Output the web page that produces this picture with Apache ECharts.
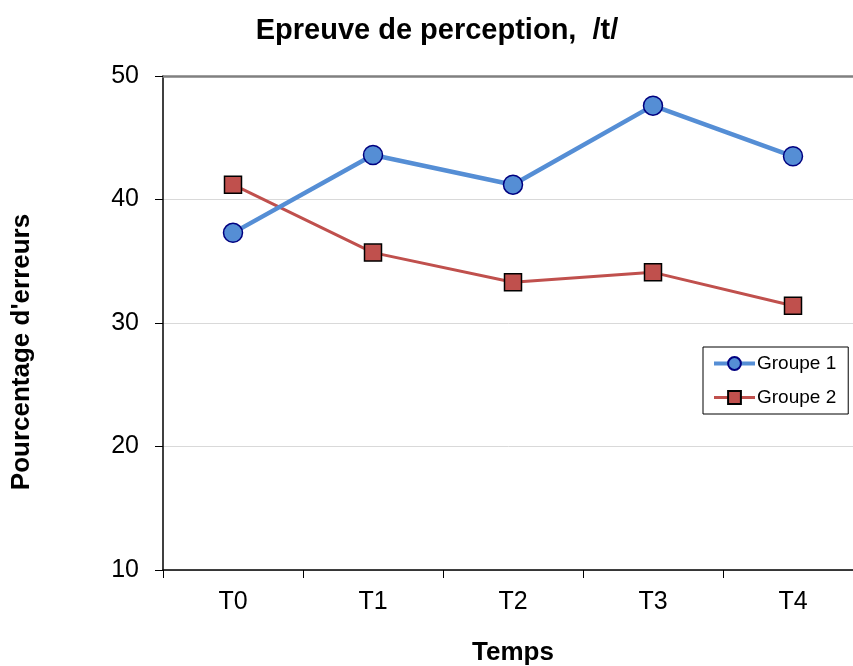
<!DOCTYPE html>
<html>
<head>
<meta charset="utf-8">
<script src="https://cdn.jsdelivr.net/npm/echarts@6/dist/echarts.min.js"></script>
<style>
  html, body { margin: 0; padding: 0; background: #fff; }
  #chart { width: 853px; height: 666px; }
</style>
</head>
<body>
<div id="chart"></div>
<script>
// Test sessions and error percentages per group
const categories = ['T0', 'T1', 'T2', 'T3', 'T4'];
const groupe1 = [37.3, 43.6, 41.2, 47.6, 43.5];
const groupe2 = [41.2, 35.7, 33.3, 34.1, 31.4];
const yTicks = { min: 10, max: 50, interval: 10 };

const font = 'Arial, "Liberation Sans", sans-serif';
const chart = echarts.init(document.getElementById('chart'));

chart.setOption({
  backgroundColor: '#ffffff',
  animation: false,
  title: {
    text: 'Epreuve de perception,  /t/',
    left: 432,
    top: 11,
    textAlign: 'center',
    textStyle: { fontFamily: font, fontSize: 29, fontWeight: 'bold', color: '#000' }
  },
  legend: {
    orient: 'vertical',
    left: 703,
    top: 347,
    padding: [7, 12, 7, 9],
    itemGap: 15,
    itemWidth: 41,
    itemHeight: 16,
    borderColor: '#000',
    borderWidth: 1,
    backgroundColor: '#fff',
    textStyle: { fontFamily: font, fontSize: 19, color: '#000', padding: [0, 0, 0, -3] },
    data: [
      { name: 'Groupe 1', lineStyle: { width: 4 } },
      { name: 'Groupe 2', lineStyle: { width: 3 } }
    ]
  },
  grid: { left: 163, top: 76, width: 700, height: 494, outerBoundsMode: 'none', containLabel: false },
  xAxis: [{
    type: 'category',
    data: categories,
    boundaryGap: true,
    name: 'Temps',
    nameLocation: 'middle',
    nameGap: 70,
    nameTextStyle: { fontFamily: font, fontSize: 26, fontWeight: 'bold', color: '#000' },
    axisLine: { lineStyle: { color: '#000', width: 1.5 } },
    axisTick: { show: true, inside: false, length: 8, lineStyle: { color: '#000' } },
    axisLabel: { fontFamily: font, fontSize: 25, color: '#000', margin: 20 },
    splitLine: { show: false }
  }, {
    type: 'category',
    data: categories,
    position: 'top',
    axisLine: { show: true, lineStyle: { color: '#808080', width: 2.5 } },
    axisTick: { show: false },
    axisLabel: { show: false },
    splitLine: { show: false }
  }],
  yAxis: {
    type: 'value',
    min: yTicks.min,
    max: yTicks.max,
    interval: yTicks.interval,
    name: "Pourcentage d'erreurs",
    nameLocation: 'middle',
    nameGap: 128,
    nameTextStyle: { fontFamily: font, fontSize: 26, fontWeight: 'bold', color: '#000', padding: [0, 58, 0, 0] },
    axisLine: { show: true, lineStyle: { color: '#000', width: 1.5 } },
    axisTick: { show: true, inside: false, length: 8, lineStyle: { color: '#000' } },
    axisLabel: { fontFamily: font, fontSize: 25, color: '#000', margin: 24 },
    splitLine: { show: true, lineStyle: { color: '#d9d9d9', width: 1 } }
  },
  series: [{
    name: 'Groupe 1',
    type: 'line',
    data: groupe1,
    symbol: 'circle',
    symbolSize: 19,
    lineStyle: { color: '#558ed5', width: 4.5 },
    itemStyle: { color: '#558ed5', borderColor: '#000080', borderWidth: 1.5 },
    z: 3
  }, {
    name: 'Groupe 2',
    type: 'line',
    data: groupe2,
    symbol: 'rect',
    symbolSize: 17,
    lineStyle: { color: '#c0504d', width: 3 },
    itemStyle: { color: '#c0504d', borderColor: '#000', borderWidth: 1.5 },
    z: 2
  }]
});
</script>
</body>
</html>
